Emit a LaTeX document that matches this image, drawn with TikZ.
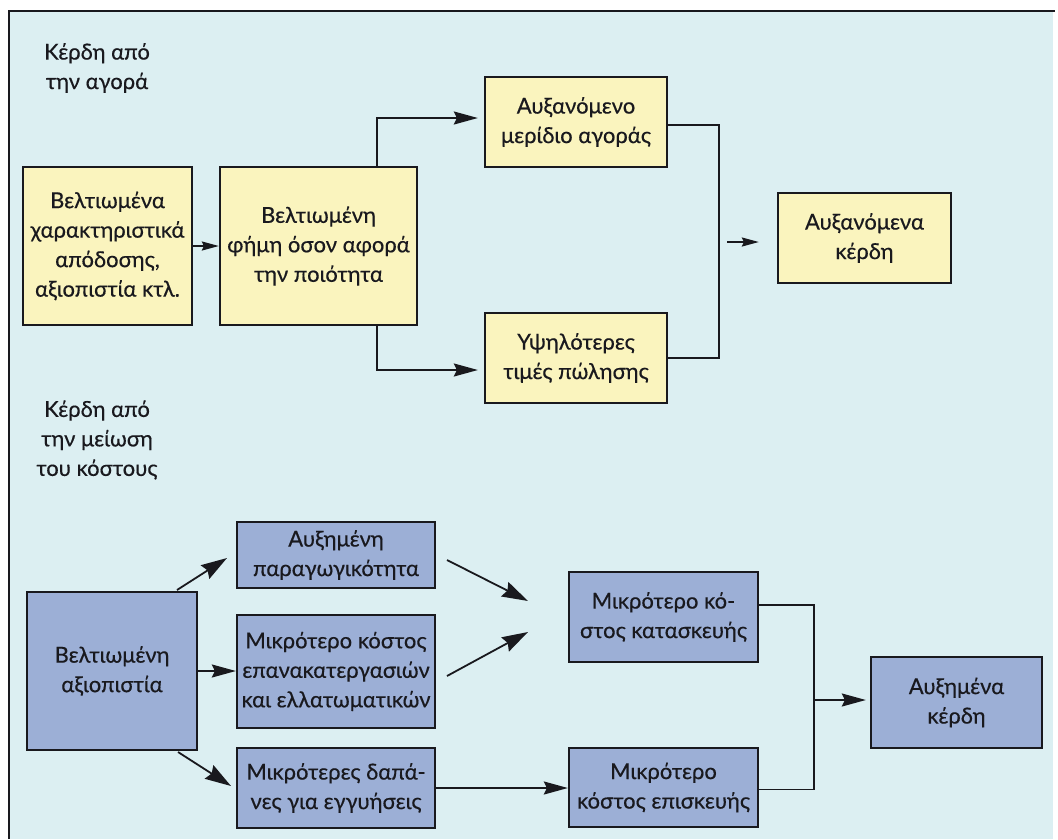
\documentclass[tikz,border=0pt]{standalone}
\usepackage{fontspec}
\setmainfont{Lato}[FakeBold=0.45]
\usetikzlibrary{arrows.meta,calc}
\definecolor{paper}{RGB}{220,239,242}
\definecolor{boxyellow}{RGB}{250,244,190}
\definecolor{boxblue}{RGB}{156,175,214}
\definecolor{ink}{RGB}{25,25,30}
\tikzset{
  card/.style={draw=ink, line width=2.3pt, inner sep=0pt, align=center,
    font=\fontsize{22}{29.5}\selectfont, text=ink},
  yellowcard/.style={card, fill=boxyellow},
  bluecard/.style={card, fill=boxblue},
  caption/.style={align=center, font=\fontsize{22}{29.5}\selectfont, text=ink},
  link/.style={draw=ink, line width=1.8pt},
  bigtip/.style={link, -{Stealth[length=24pt,width=13pt,inset=3pt]}},
  midtip/.style={link, -{Stealth[length=17pt,width=9pt,inset=2pt]}},
  fattip/.style={link, -{Stealth[length=26pt,width=16pt,inset=3pt]}}
}
\begin{document}
\begin{tikzpicture}[x=1pt,y=-1pt]
\useasboundingbox (0,0) rectangle (1058,839);
% page panel
\fill[white] (0,0) rectangle (1058,839);
\fill[paper] (9,11) rectangle (1053,839);
\draw[ink, line width=2pt] (9,839) -- (9,11) -- (1055,11);

% headings
\node[caption] (hmarket) at (97,68) {Κέρδη από\\την αγορά};
\node[caption] (hcost) at (97,440) {Κέρδη από\\την μείωση\\του κόστους};

% market branch
\node[yellowcard, minimum width=169pt, minimum height=158pt] (A) at (107.5,246)
  {Βελτιωμένα\\χαρακτηριστικά\\απόδοσης,\\αξιοπιστία κτλ.};
\node[yellowcard, minimum width=197pt, minimum height=158pt] (B) at (318.5,246)
  {Βελτιωμένη\\φήμη όσον αφορά\\την ποιότητα};
\node[yellowcard, minimum width=182pt, minimum height=90pt] (C) at (576,122)
  {Αυξανόμενο\\μερίδιο αγοράς};
\node[yellowcard, minimum width=182pt, minimum height=90pt] (D) at (576,358)
  {Υψηλότερες\\τιμές πώλησης};
\node[yellowcard, minimum width=173pt, minimum height=90pt] (E) at (864.5,238)
  {Αυξανόμενα\\κέρδη};

\draw[midtip] (A.east) -- (B.west);
\draw[bigtip, shorten >=6pt] ($(B.north east)+(-41,0)$) |- ($(C.west)+(0,-4)$);
\draw[bigtip, shorten >=6pt] ($(B.south east)+(-41,0)$) |- ($(D.west)+(0,12)$);
\draw[link] ($(C.east)+(0,3)$) -- ++(51,0) coordinate (mj) |- (D.east);
\coordinate (mstart) at (727,242);
\draw[midtip, shorten >=18pt] (mstart) -- (mstart -| E.west);

% cost branch
\node[bluecard, minimum width=170pt, minimum height=158pt] (F) at (112,671)
  {Βελτιωμένη\\αξιοπιστία};
\node[bluecard, minimum width=198pt, minimum height=66pt] (G) at (336,555)
  {Αυξημένη\\παραγωγικότητα};
\node[bluecard, minimum width=198pt, minimum height=113pt] (H) at (336,671.5)
  {Μικρότερο κόστος\\επανακατεργασιών\\και ελλατωματικών};
\node[bluecard, minimum width=198pt, minimum height=80pt] (I) at (336,788)
  {Μικρότερες δαπά-\\νες για εγγυήσεις};
\node[bluecard, minimum width=189pt, minimum height=90pt] (J) at (663.5,617)
  {Μικρότερο κό-\\στος κατασκευής};
\node[bluecard, minimum width=189pt, minimum height=79pt] (K) at (663.5,787.5)
  {Μικρότερο\\κόστος επισκευής};
\node[bluecard, minimum width=171pt, minimum height=91pt] (L) at (956.5,702.5)
  {Αυξημένα\\κέρδη};

\coordinate (fg) at (177,590);
\coordinate (fgtip) at (227,558);
\draw[fattip] (fg) -- (fgtip);
\draw[bigtip] (F.east) -- (F.east -| H.west);
\coordinate (fi) at (178,752);
\coordinate (fitip) at (231,786);
\draw[fattip] (fi) -- (fitip);

\coordinate (gj) at (447,560);
\coordinate (gjtip) at (528,601);
\draw[fattip] (gj) -- (gjtip);
\coordinate (hj) at (447,676);
\coordinate (hjtip) at (528,632);
\draw[fattip] (hj) -- (hjtip);

\draw[bigtip] (I.east) -- (I.east -| K.west);
\draw[link] ($(J.east)+(0,-12)$) -- ++(55,0) coordinate (cj) |- ($(K.east)+(0,2)$);
\coordinate (cstart) at (813,700);
\draw[bigtip, shorten >=4pt] (cstart) -- (cstart -| L.west);
\end{tikzpicture}
\end{document}
